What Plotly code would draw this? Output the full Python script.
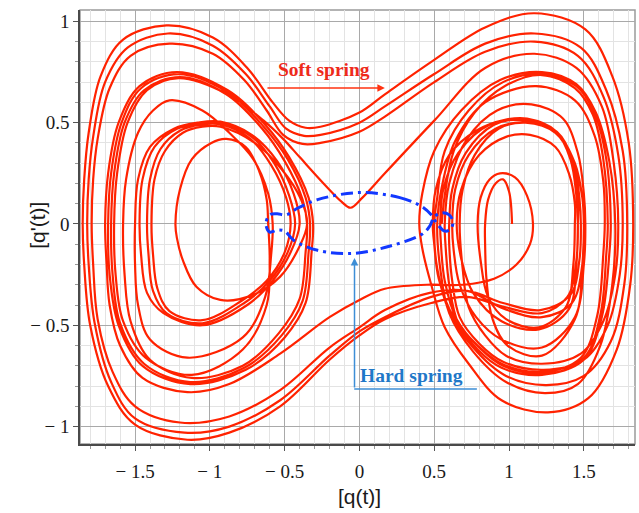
import plotly.graph_objects as go

# ---------------- data ----------------
# Soft spring trajectory, listed as consecutive half-orbits (q, q')
r0_top = [(0.55,0),(0.57,0.14),(0.63,0.36),(0.77,0.55),(0.97,0.68),(1.22,0.735),(1.44,0.67),(1.56,0.54),(1.63,0.32),(1.66,0)]
r0_bot = [(1.66,0),(1.65,-0.15),(1.61,-0.45),(1.50,-0.66),(1.22,-0.73),(0.95,-0.69),(0.79,-0.60),(0.63,-0.46),(0.53,-0.27),(0.50,-0.10),(0.49,0)]
r0_top2 = [(0.49,0),(0.51,0.17),(0.60,0.34),(0.78,0.46),(0.98,0.515),(1.12,0.52),(1.31,0.46),(1.41,0.32),(1.45,0.14),(1.46,0)]
cross_bot_4 = [(1.46,0),(1.45,-0.18),(1.39,-0.36),(1.22,-0.44),(0.97,-0.41),(0.72,-0.36),(0.48,-0.39),(0.17,-0.47),(0,-0.55),(-0.2,-0.67),(-0.53,-0.90),(-0.87,-1.03),(-1.15,-1.065),(-1.50,-0.99),(-1.68,-0.80),(-1.80,-0.50),(-1.84,-0.20),(-1.85,0)]
cross_top_a = [(-1.85,0),(-1.84,0.22),(-1.81,0.45),(-1.73,0.73),(-1.58,0.91),(-1.29,0.98),(-0.98,0.92),(-0.75,0.77),(-0.58,0.60),(-0.47,0.51),(-0.36,0.475),(-0.26,0.48),(0.0,0.55),(0.17,0.64),(0.50,0.81),(0.84,0.97),(1.17,1.04),(1.51,0.96),(1.69,0.73),(1.80,0.40),(1.83,0)]
r1_bot1 = [(1.83,0),(1.81,-0.30),(1.72,-0.62),(1.53,-0.86),(1.26,-0.93),(0.95,-0.87),(0.73,-0.69),(0.57,-0.51),(0.48,-0.30),(0.42,-0.12),(0.40,0)]
r1_top1 = [(0.40,0),(0.42,0.15),(0.50,0.36),(0.68,0.56),(0.94,0.71),(1.22,0.75),(1.45,0.69),(1.58,0.55),(1.67,0.31),(1.71,0)]
r1_bot2 = [(1.71,0),(1.69,-0.30),(1.61,-0.60),(1.46,-0.79),(1.24,-0.835),(0.98,-0.78),(0.76,-0.63),(0.60,-0.44),(0.54,-0.22),(0.52,0)]
r1_top2 = [(0.52,0),(0.55,0.18),(0.64,0.41),(0.84,0.60),(1.18,0.68),(1.44,0.61),(1.57,0.44),(1.63,0.21),(1.64,0)]
r1_bot3 = [(1.64,0),(1.63,-0.15),(1.59,-0.45),(1.48,-0.66),(1.22,-0.735),(0.96,-0.70),(0.80,-0.61),(0.65,-0.47),(0.57,-0.28),(0.545,-0.10),(0.54,0)]
r1_top3 = [(0.54,0),(0.56,0.17),(0.66,0.35),(0.87,0.49),(1.11,0.51),(1.32,0.455),(1.43,0.31),(1.47,0.13),(1.48,0)]
cross_bot_3 = [(1.48,0),(1.47,-0.18),(1.41,-0.35),(1.21,-0.425),(0.96,-0.39),(0.72,-0.33),(0.48,-0.36),(0.17,-0.46),(0,-0.53),(-0.2,-0.65),(-0.53,-0.87),(-0.87,-1.00),(-1.17,-1.03),(-1.50,-0.96),(-1.66,-0.78),(-1.77,-0.49),(-1.81,-0.20),(-1.82,0)]
cross_top_b = [(-1.82,0),(-1.81,0.22),(-1.78,0.43),(-1.70,0.70),(-1.55,0.87),(-1.28,0.94),(-0.98,0.88),(-0.76,0.74),(-0.60,0.58),(-0.49,0.47),(-0.37,0.435),(-0.26,0.44),(0,0.50),(0.17,0.58),(0.50,0.74),(0.84,0.89),(1.17,0.94),(1.48,0.87),(1.65,0.66),(1.76,0.36),(1.79,0)]
r2_bot1 = [(1.79,0),(1.77,-0.30),(1.68,-0.58),(1.50,-0.75),(1.25,-0.795),(0.98,-0.75),(0.76,-0.61),(0.60,-0.43),(0.52,-0.22),(0.50,0)]
r2_top1 = [(0.50,0),(0.52,0.13),(0.57,0.36),(0.73,0.56),(0.96,0.70),(1.22,0.74),(1.45,0.68),(1.57,0.55),(1.65,0.32),(1.68,0)]
r2_bot2 = [(1.68,0),(1.67,-0.15),(1.62,-0.46),(1.50,-0.67),(1.22,-0.745),(0.95,-0.71),(0.79,-0.62),(0.66,-0.49),(0.60,-0.30),(0.575,-0.10),(0.57,0)]
r2_top2 = [(0.57,0),(0.60,0.20),(0.72,0.42),(0.92,0.56),(1.15,0.59),(1.36,0.52),(1.46,0.35),(1.50,0.15),(1.51,0)]
r2_bot3 = [(1.51,0),(1.50,-0.2),(1.44,-0.46),(1.22,-0.61),(0.95,-0.57),(0.78,-0.46),(0.67,-0.30),(0.63,-0.13),(0.62,0)]
r2_top3 = [(0.62,0),(0.64,0.17),(0.73,0.34),(0.91,0.47),(1.11,0.50),(1.31,0.45),(1.43,0.31),(1.49,0.13),(1.50,0)]
cross_bot_2 = [(1.50,0),(1.49,-0.20),(1.42,-0.39),(1.22,-0.46),(0.97,-0.42),(0.72,-0.33),(0.47,-0.34),(0.17,-0.425),(0,-0.51),(-0.2,-0.61),(-0.53,-0.82),(-0.87,-0.95),(-1.20,-0.98),(-1.50,-0.90),(-1.65,-0.73),(-1.75,-0.47),(-1.78,-0.20),(-1.79,0)]
cross_top_c = [(-1.79,0),(-1.78,0.22),(-1.75,0.42),(-1.67,0.67),(-1.53,0.83),(-1.27,0.89),(-0.98,0.84),(-0.77,0.71),(-0.62,0.56),(-0.51,0.44),(-0.38,0.395),(-0.26,0.40),(0,0.455),(0.17,0.53),(0.50,0.70),(0.84,0.85),(1.17,0.90),(1.46,0.83),(1.63,0.63),(1.73,0.34),(1.76,0)]
r3_bot1 = [(1.76,0),(1.74,-0.25),(1.66,-0.50),(1.50,-0.67),(1.23,-0.72),(0.96,-0.68),(0.80,-0.59),(0.67,-0.46),(0.62,-0.28),(0.60,-0.10),(0.60,0)]
r3_top1 = [(0.60,0),(0.62,0.17),(0.71,0.35),(0.90,0.49),(1.11,0.515),(1.31,0.46),(1.42,0.31),(1.46,0.13),(1.46,0)]
r3_bot2 = [(1.46,0),(1.45,-0.2),(1.40,-0.42),(1.20,-0.52),(0.95,-0.48),(0.76,-0.34),(0.68,-0.17),(0.65,0)]
r3_top2 = [(0.65,0),(0.68,0.17),(0.80,0.34),(0.98,0.43),(1.14,0.44),(1.31,0.38),(1.40,0.25),(1.44,0.10),(1.44,0)]
r3_bot3 = [(1.44,0),(1.43,-0.2),(1.38,-0.41),(1.20,-0.51),(0.98,-0.47),(0.86,-0.36),(0.81,-0.18),(0.79,0)]
r3_small = [(0.79,0),(0.81,0.13),(0.87,0.22),(0.94,0.25),(1.04,0.23),(1.12,0.14),(1.16,0)]
cross_bot_1 = [(1.16,0),(1.14,-0.10),(1.05,-0.20),(0.90,-0.27),(0.69,-0.30),(0.45,-0.30),(0.17,-0.32),(0,-0.375),(-0.2,-0.46),(-0.53,-0.64),(-0.87,-0.79),(-1.15,-0.83),(-1.45,-0.76),(-1.60,-0.60),(-1.67,-0.40),(-1.69,-0.20),(-1.70,0)]
l_top1 = [(-1.70,0),(-1.68,0.25),(-1.61,0.50),(-1.47,0.68),(-1.22,0.75),(-0.88,0.66),(-0.63,0.49),(-0.47,0.33),(-0.34,0.13),(-0.31,0)]
l_bot1 = [(-0.31,0),(-0.32,-0.14),(-0.36,-0.39),(-0.50,-0.56),(-0.76,-0.72),(-1.13,-0.79),(-1.45,-0.70),(-1.61,-0.50),(-1.67,-0.25),(-1.68,0)]
l_top2 = [(-1.68,0),(-1.66,0.25),(-1.59,0.50),(-1.46,0.67),(-1.21,0.74),(-0.88,0.65),(-0.64,0.48),(-0.48,0.32),(-0.36,0.13),(-0.33,0)]
l_bot2 = [(-0.33,0),(-0.34,-0.14),(-0.38,-0.38),(-0.52,-0.55),(-0.77,-0.71),(-1.13,-0.78),(-1.44,-0.69),(-1.60,-0.49),(-1.65,-0.25),(-1.66,0)]
l_top3 = [(-1.66,0),(-1.64,0.25),(-1.57,0.50),(-1.44,0.66),(-1.20,0.725),(-0.89,0.64),(-0.65,0.47),(-0.50,0.31),(-0.38,0.12),(-0.35,0)]
l_bot3 = [(-0.35,0),(-0.36,-0.14),(-0.40,-0.37),(-0.54,-0.54),(-0.78,-0.70),(-1.12,-0.76),(-1.40,-0.67),(-1.53,-0.48),(-1.57,-0.25),(-1.58,0)]
l_top4 = [(-1.58,0),(-1.56,0.22),(-1.48,0.45),(-1.38,0.56),(-1.27,0.61),(-1.05,0.56),(-0.87,0.45),(-0.71,0.32),(-0.61,0.15),(-0.58,0)]
l_bot4 = [(-0.58,0),(-0.59,-0.15),(-0.63,-0.36),(-0.78,-0.56),(-1.15,-0.66),(-1.40,-0.57),(-1.48,-0.40),(-1.50,-0.20),(-1.50,0)]
l_top5 = [(-1.50,0),(-1.48,0.22),(-1.40,0.38),(-1.24,0.47),(-1.08,0.50),(-0.93,0.505),(-0.72,0.44),(-0.55,0.31),(-0.44,0.15),(-0.40,0)]
l_bot5 = [(-0.40,0),(-0.46,-0.14),(-0.58,-0.28),(-0.75,-0.40),(-1.05,-0.50),(-1.31,-0.44),(-1.42,-0.34),(-1.46,-0.15),(-1.47,0)]
l_top6 = [(-1.47,0),(-1.45,0.22),(-1.37,0.38),(-1.22,0.47),(-1.07,0.495),(-0.92,0.50),(-0.72,0.43),(-0.57,0.30),(-0.47,0.14),(-0.43,0)]
l_bot6 = [(-0.43,0),(-0.48,-0.14),(-0.60,-0.28),(-0.77,-0.39),(-1.05,-0.49),(-1.29,-0.44),(-1.38,-0.33),(-1.41,-0.15),(-1.42,0)]
l_top7 = [(-1.42,0),(-1.40,0.22),(-1.33,0.37),(-1.20,0.46),(-1.06,0.49),(-0.92,0.49),(-0.73,0.42),(-0.59,0.29),(-0.49,0.13),(-0.46,0)]
l_bot7 = [(-0.46,0),(-0.50,-0.14),(-0.62,-0.28),(-0.79,-0.38),(-1.05,-0.475),(-1.27,-0.43),(-1.35,-0.32),(-1.38,-0.15),(-1.39,0)]
l_top8 = [(-1.39,0),(-1.37,0.22),(-1.30,0.36),(-1.18,0.45),(-1.05,0.48),(-0.93,0.48),(-0.70,0.40),(-0.52,0.27),(-0.39,0.12),(-0.35,0)]
l_bot8 = [(-0.35,0),(-0.40,-0.11),(-0.53,-0.26),(-0.71,-0.35),(-0.93,-0.375),(-1.09,-0.31),(-1.18,-0.18),(-1.22,-0.07),(-1.23,0)]
l_top9 = [(-1.23,0),(-1.20,0.17),(-1.12,0.32),(-0.99,0.40),(-0.89,0.42),(-0.76,0.38),(-0.67,0.26),(-0.62,0.12),(-0.61,0)]
l_bot9 = [(-0.61,0),(-0.60,-0.18),(-0.62,-0.40),(-0.78,-0.62),(-1.12,-0.745),(-1.43,-0.66),(-1.58,-0.48),(-1.63,-0.25),(-1.64,0)]
cross_top_v = [(-1.64,0),(-1.62,0.25),(-1.55,0.50),(-1.42,0.66),(-1.21,0.72),(-0.88,0.64),(-0.64,0.51),(-0.51,0.42),(-0.40,0.33),(-0.24,0.20),(-0.12,0.11),(-0.06,0.08),(0.02,0.13),(0.17,0.25),(0.50,0.51),(0.84,0.77),(1.17,0.84),(1.45,0.77),(1.62,0.58),(1.70,0.30),(1.73,0)]
r4_bot1 = [(1.73,0),(1.71,-0.25),(1.63,-0.48),(1.48,-0.64),(1.22,-0.69),(0.98,-0.65),(0.84,-0.55),(0.73,-0.41),(0.69,-0.22),(0.67,0)]
r4_top1 = [(0.67,0),(0.69,0.17),(0.77,0.34),(0.93,0.47),(1.12,0.50),(1.32,0.45),(1.44,0.30),(1.49,0.13),(1.50,0)]
r4_bot2 = [(1.50,0),(1.49,-0.2),(1.44,-0.47),(1.22,-0.65),(0.99,-0.60),(0.89,-0.47),(0.85,-0.28),(0.84,-0.10),(0.84,0)]
r4_small = [(0.84,0),(0.86,0.12),(0.91,0.20),(0.96,0.22),(1.00,0.16),(1.02,0)]

soft_path = [r0_top, r0_bot, r0_top2, cross_bot_4, cross_top_a,
             r1_bot1, r1_top1, r1_bot2, r1_top2, r1_bot3, r1_top3, cross_bot_3, cross_top_b,
             r2_bot1, r2_top1, r2_bot2, r2_top2, r2_bot3, r2_top3, cross_bot_2, cross_top_c,
             r3_bot1, r3_top1, r3_bot2, r3_top2, r3_bot3, r3_small, cross_bot_1,
             l_top1, l_bot1, l_top2, l_bot2, l_top3, l_bot3, l_top4, l_bot4, l_top5, l_bot5,
             l_top6, l_bot6, l_top7, l_bot7, l_top8, l_bot8, l_top9, l_bot9, cross_top_v,
             r4_bot1, r4_top1, r4_bot2, r4_small]

# Hard spring closed orbit (q, q')
hard_orbit = [(0.0,0.155),(0.27,0.13),(0.42,0.085),(0.48,0.045),(0.52,0.0),(0.57,-0.035),(0.61,-0.025),
              (0.625,0.01),(0.60,0.045),(0.55,0.055),(0.50,0.035),(0.47,-0.01),(0.42,-0.05),(0.20,-0.11),
              (-0.04,-0.145),(-0.28,-0.13),(-0.44,-0.08),(-0.50,-0.035),(-0.55,-0.03),(-0.60,-0.04),
              (-0.625,0.0),(-0.60,0.045),(-0.55,0.05),(-0.49,0.045),(-0.42,0.075),(-0.28,0.12),(0.0,0.155)]

x_tickvals = [-1.5, -1, -0.5, 0, 0.5, 1, 1.5]
x_ticktext = ["\u2212 1.5", "\u2212 1", "\u2212 0.5", "0", "0.5", "1", "1.5"]
y_tickvals = [-1, -0.5, 0, 0.5, 1]
y_ticktext = ["\u2212 1", "\u2212 0.5", "0", "0.5", "1"]

# ---------------- build ----------------
soft_q, soft_p = [], []
for k, seg in enumerate(soft_path):
    pts = seg if k == 0 else seg[1:]
    for a, b in pts:
        soft_q.append(a)
        soft_p.append(b)

hard_q = [a for a, b in hard_orbit]
hard_p = [b for a, b in hard_orbit]

RED = "#ff2200"
BLUE = "#1238ff"

fig = go.Figure()
fig.add_trace(go.Scatter(x=soft_q, y=soft_p, mode="lines",
                         line=dict(color=RED, width=2.2, shape="spline", smoothing=1.0),
                         hoverinfo="skip"))
fig.add_trace(go.Scatter(x=hard_q, y=hard_p, mode="lines",
                         line=dict(color=BLUE, width=3, shape="spline", smoothing=1.0,
                                   dash="12px,5px,3px,5px"),
                         hoverinfo="skip"))

axis_common = dict(
    showgrid=True, gridcolor="#a9a9a9", gridwidth=1,
    zeroline=False, showline=True, linecolor="#4a4a4a", linewidth=1.5,
    ticks="outside", ticklen=5, tickcolor="#555", tickwidth=1,
    tickfont=dict(family="Liberation Serif", size=19, color="#1a1a1a"),
    minor=dict(tick0=0, dtick=0.1, showgrid=True, gridcolor="#e3e3e3", gridwidth=1,
               ticks="outside", ticklen=3, tickcolor="#999"),
)

fig.update_layout(
    width=639, height=513,
    margin=dict(l=80, r=4, t=10, b=69),
    plot_bgcolor="white", paper_bgcolor="white",
    showlegend=False,
    xaxis=dict(range=[-1.868, 1.842], tickmode="array", tickvals=x_tickvals, ticktext=x_ticktext,
               ticklabelstandoff=4, **axis_common),
    yaxis=dict(range=[-1.086, 1.056], tickmode="array", tickvals=y_tickvals, ticktext=y_ticktext,
               **axis_common),
)

# frame on top / right
fig.add_shape(type="rect", xref="paper", yref="paper", x0=0, x1=1, y0=0, y1=1,
              line=dict(color="#9a9a9a", width=1.5), layer="below")

# Soft spring label and arrow
fig.add_annotation(x=-0.237, y=0.76, xref="x", yref="y", text="<b>Soft spring</b>", showarrow=False,
                   font=dict(family="Liberation Serif", size=19.5, color="#ee2a1a"))
fig.add_annotation(x=0.17, y=0.671, ax=-0.625, ay=0.671, xref="x", yref="y", axref="x", ayref="y",
                   text="", showarrow=True, arrowhead=2, arrowsize=1, arrowwidth=1.5, arrowcolor="#ff3311")

# Hard spring label and bracket arrow
fig.add_annotation(x=0.351, y=-0.75, xref="x", yref="y", text="<b>Hard spring</b>", showarrow=False,
                   font=dict(family="Liberation Serif", size=19.5, color="#1f78c8"))
fig.add_shape(type="line", xref="x", yref="y", x0=-0.035, x1=0.785, y0=-0.814, y1=-0.814,
              line=dict(color="#3d8ed6", width=1.5))
fig.add_annotation(x=-0.033, y=-0.168, ax=-0.033, ay=-0.814, xref="x", yref="y", axref="x", ayref="y",
                   text="", showarrow=True, arrowhead=2, arrowsize=1, arrowwidth=1.5, arrowcolor="#3d8ed6")

# axis titles
fig.add_annotation(x=0.503, y=-0.122, xref="paper", yref="paper", text="[q(t)]", showarrow=False,
                   font=dict(family="Liberation Sans", size=21, color="#1a1a1a"), yanchor="middle")
fig.add_annotation(x=-0.0757, y=0.505, xref="paper", yref="paper", text="[q'(t)]", showarrow=False,
                   textangle=-90, font=dict(family="Liberation Sans", size=21, color="#1a1a1a"),
                   xanchor="center", yanchor="middle")

fig.write_html("out.html")
